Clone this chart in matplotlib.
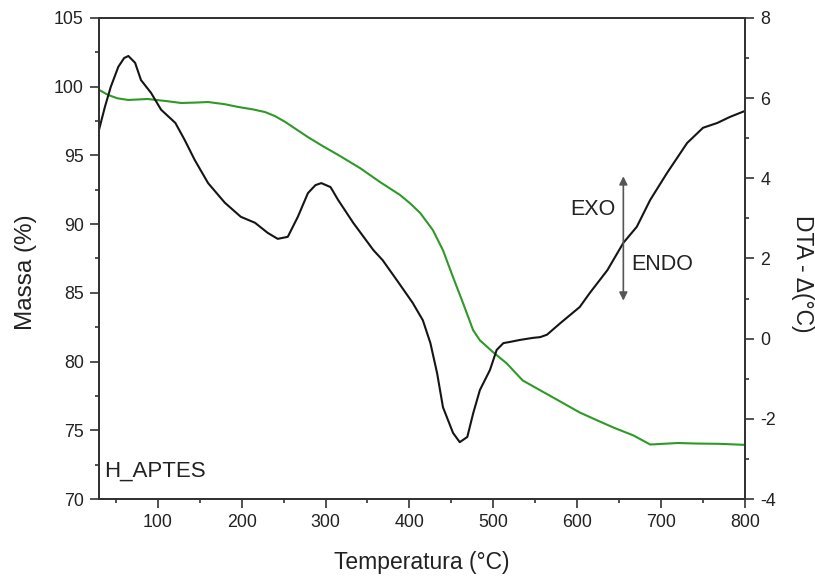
import matplotlib
matplotlib.use("Agg")
import matplotlib.pyplot as plt
import numpy as np

plt.rcParams['font.family'] = ['Liberation Sans', 'DejaVu Sans']
plt.rcParams['axes.unicode_minus'] = False

# Mass (TG) curve
mass_T = [30, 41, 52, 65, 88, 110, 128, 145, 160, 180, 196, 213, 228, 240,
          252, 265, 279, 296, 316, 341, 365, 389, 401, 413, 428, 440, 452,
          464, 476, 484, 500, 516, 535, 556, 571, 587, 603, 623, 643, 667,
          687, 702, 720, 743, 770, 798]
mass_v = [99.76, 99.39, 99.15, 99.03, 99.10, 98.95, 98.81, 98.84, 98.88,
          98.72, 98.52, 98.35, 98.15, 97.85, 97.43, 96.90, 96.33, 95.70,
          95.00, 94.08, 93.06, 92.11, 91.50, 90.80, 89.56, 88.10, 86.14,
          84.24, 82.28, 81.55, 80.67, 79.87, 78.63, 77.91, 77.40, 76.85,
          76.30, 75.75, 75.21, 74.63, 73.97, 74.02, 74.08, 74.04, 74.02,
          73.95]

# DTA curve
dta_T = [30, 37, 44, 53, 60, 65, 73, 80, 92, 104, 121, 132, 144, 160, 180,
         199, 216, 231, 243, 255, 267, 279, 288, 295, 306, 315, 333, 357,
         368, 385, 404, 416, 425, 433, 440, 452, 460, 469, 476, 484, 496,
         504, 512, 520, 532, 547, 556, 564, 580, 603, 615, 636, 655, 671,
         687, 707, 731, 750, 767, 782, 800]
dta_v = [5.21, 5.78, 6.28, 6.78, 7.00, 7.05, 6.88, 6.45, 6.13, 5.71, 5.38,
         4.96, 4.46, 3.88, 3.39, 3.04, 2.89, 2.64, 2.49, 2.54, 3.04, 3.63,
         3.83, 3.88, 3.78, 3.46, 2.89, 2.21, 1.96, 1.46, 0.89, 0.46, -0.11,
         -0.86, -1.71, -2.35, -2.58, -2.45, -1.86, -1.28, -0.78, -0.28,
         -0.11, -0.08, -0.03, 0.02, 0.04, 0.10, 0.39, 0.79, 1.14, 1.71,
         2.39, 2.79, 3.46, 4.13, 4.88, 5.26, 5.38, 5.53, 5.68]

x_ticks = [100, 200, 300, 400, 500, 600, 700, 800]
left_ticks = [70, 75, 80, 85, 90, 95, 100, 105]
right_ticks = [-4, -2, 0, 2, 4, 6, 8]

fig = plt.figure(figsize=(8.15, 5.77), dpi=100)
ax = fig.add_axes([0.1215, 0.135, 0.7926, 0.834])
ax2 = ax.twinx()

ax.plot(mass_T, mass_v, color='#2e9a26', lw=1.5, solid_joinstyle='round')
ax2.plot(dta_T, dta_v, color='#151515', lw=1.5, solid_joinstyle='round')

ax.set_xlim(30, 800)
ax.set_ylim(70, 105)
ax2.set_ylim(-4, 8)
ax.set_xticks(x_ticks)
ax.set_xticks(np.arange(50, 801, 100), minor=True)
ax.set_yticks(left_ticks)
ax.set_yticks(np.arange(72.5, 105, 5), minor=True)
ax2.set_yticks(right_ticks)
ax2.set_yticks(np.arange(-3, 8, 2), minor=True)

spine_c = '#333333'
for a in (ax, ax2):
    for s in a.spines.values():
        s.set_color(spine_c)
        s.set_linewidth(1.4)
    a.tick_params(which='major', direction='out', length=6.5, width=1.2,
                  color=spine_c, labelsize=12.8, labelcolor='#222222', pad=4.5)
    a.tick_params(which='minor', direction='out', length=3.2, width=1.2,
                  color=spine_c)

ax.set_xlabel('Temperatura (°C)', fontsize=16.5, color='#222222')
ax.xaxis.set_label_coords(0.5, -0.108)
ax.set_ylabel('Massa (%)', fontsize=17.5, color='#222222')
ax.yaxis.set_label_coords(-0.096, 0.472)
ax2.set_ylabel('DTA - Δ(°C)', fontsize=16.5, color='#222222', rotation=270,
               va='bottom')
ax2.yaxis.set_label_coords(1.0712, 0.469)

ax.text(36, 72.0, 'H_APTES', fontsize=16, color='#222222', ha='left',
        va='center')

# EXO / ENDO arrow
ax2.annotate('', xy=(655, 4.05), xytext=(655, 0.95),
             arrowprops=dict(arrowstyle='<|-|>', color='#555555', lw=1.2,
                             mutation_scale=12, shrinkA=0, shrinkB=0))
ax2.text(646, 3.23, 'EXO', fontsize=15.5, color='#222222', ha='right',
         va='center')
ax2.text(664, 1.86, 'ENDO', fontsize=15.5, color='#222222', ha='left',
         va='center')

fig.savefig('out.png', dpi=100)
